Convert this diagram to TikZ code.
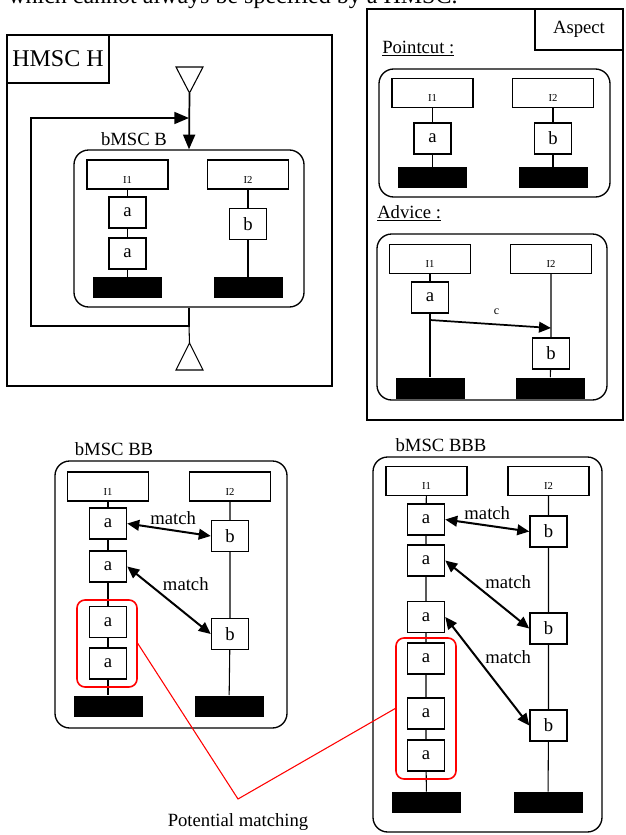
\documentclass[tikz,border=0pt]{standalone}
\usepackage{fontspec}
\setmainfont{Liberation Serif}
\usetikzlibrary{arrows.meta}

\begin{document}
\begin{tikzpicture}[x=0.75pt, y=-0.75pt,
    head/.style={draw, line width=0.9pt, minimum width=60.75pt, minimum height=21.75pt, inner sep=2pt, text height=14pt, text depth=1pt, font=\fontsize{8}{8}\selectfont},
    ev/.style={draw, fill=white, line width=1.1pt, minimum width=27.75pt, minimum height=23.25pt, inner sep=0pt, font=\fontsize{14}{14}\selectfont},
    endbar/.style={fill=black, minimum width=51.75pt, minimum height=15.75pt, inner sep=0pt},
    msc/.style={draw, rounded corners=11pt, line width=1pt, inner sep=0pt},
    potential/.style={draw=red, rounded corners=6pt, line width=1.2pt, inner sep=0pt, minimum width=45pt},
    life/.style={line width=0.8pt},
    big/.style={font=\fontsize{14}{16}\selectfont},
    matcharrow/.style={{Triangle[length=9pt,width=8pt]}-{Triangle[length=9pt,width=8pt]}, line width=1.5pt}]
    \clip (0,0) rectangle (625,835);

    \node[font=\fontsize{18}{20}\selectfont, anchor=base west, inner sep=0pt] (intro) at (8,3) {which cannot always be specified by a HMSC.};

    % HMSC H
    \draw[line width=0.8pt] (7,35) rectangle (332,386);
    \node[draw, line width=0.8pt, minimum width=76.5pt, minimum height=36pt, inner sep=0pt, font=\fontsize{18}{20}\selectfont] (H) at (58,59) {HMSC H};
    \coordinate (Htop) at (189.5,93);
    \coordinate (Hbot) at (189.5,343);
    \coordinate (Hjoin) at (189,326);
    \coordinate (Hin) at (189,118);
    \draw[line width=0.8pt, fill=white] (Htop) -- ++(-13.5,-26) -- ++(27,0) -- cycle;
    \draw[line width=0.8pt, fill=white] (Hbot) -- ++(-13.5,27) -- ++(27,0) -- cycle;

    \node[msc, minimum width=172.5pt, minimum height=117.75pt] (B) at (189,228.5) {};
    \node[big] (Blabel) at (134,139) {bMSC B};
    \node[head] (B1) at (127.5,174.5) {I1};
    \node[head] (B2) at (248,174.5) {I2};
    \node[ev] (Ba1) at (127.5,212.5) {a};
    \node[ev] (Ba2) at (127.5,253.5) {a};
    \node[ev] (Bb1) at (248,224) {b};
    \node[endbar] (Bend1) at (127.5,287.5) {};
    \node[endbar] (Bend2) at (248,287.5) {};
    \draw[life] (B1) -- (Ba1) -- (Ba2) -- (Bend1);
    \draw[life] (B2) -- (Bb1) -- (Bend2);

    \draw[line width=1.3pt, -{Triangle[length=11pt,width=9pt]}] (Htop) -- (B.north);
    \draw[line width=1.3pt, -{Triangle[length=11pt,width=9pt]}] (B.south) -- (Hjoin) -- (31,326) -- (31,118) -- (Hin);
    \draw[line width=0.8pt] (Hjoin) -- (Hbot);

    % Aspect
    \draw[line width=0.8pt] (367,9) rectangle (623,420);
    \node[draw, line width=0.8pt, minimum width=66pt, minimum height=30.75pt, big] (asp) at (579,29.5) {Aspect};
    \node[big, anchor=base west, inner sep=0pt] (pc) at (382,53) {\underline{Pointcut :}};
    \node[big, anchor=base west, inner sep=0pt] (adv) at (377,218) {\underline{Advice :}};

    \node[msc, minimum width=173.25pt, minimum height=96pt] (P) at (494.5,133) {};
    \node[head] (P1) at (432.5,93) {I1};
    \node[head] (P2) at (553,93) {I2};
    \node[ev] (Pa) at (432.5,138.5) {a};
    \node[ev] (Pb) at (553,138.5) {b};
    \node[endbar] (Pend1) at (432.5,177.5) {};
    \node[endbar] (Pend2) at (553,177.5) {};
    \draw[life] (P1) -- (Pa) -- (Pend1);
    \draw[life] (P2) -- (Pb) -- (Pend2);

    \node[msc, minimum width=172.5pt, minimum height=124.5pt] (A) at (492,317) {};
    \node[head] (A1) at (430,259) {I1};
    \node[head] (A2) at (551,259) {I2};
    \node[ev] (Aa) at (430,297.5) {a};
    \node[ev] (Ab) at (551,353.5) {b};
    \node[endbar] (Aend1) at (430,388) {};
    \node[endbar] (Aend2) at (550,388) {};
    \draw[life] (A1) -- (Aa) -- (Aend1);
    \draw[life] (A2) -- (Ab) -- (Aend2);
    \coordinate (Acfrom) at (430,320);
    \coordinate (Acto) at (551,328);
    \draw[line width=1.3pt, -{Triangle[length=9pt,width=8pt]}] (Acfrom) -- node[above=3pt, pos=0.55, font=\fontsize{9}{9}\selectfont] (c) {c} (Acto);

    % bMSC BB
    \node[msc, minimum width=174pt, minimum height=200.25pt] (BB) at (171,594.5) {};
    \node[big] (BBlabel) at (114,449) {bMSC BB};
    \node[head] (BB1) at (108,486.5) {I1};
    \node[head] (BB2) at (230,486.5) {I2};
    \node[ev] (BBa1) at (108,523.5) {a};
    \node[ev] (BBa2) at (108,566.5) {a};
    \node[ev] (BBa3) at (108,622) {a};
    \node[ev] (BBa4) at (108,663.5) {a};
    \node[ev] (BBb1) at (230,536) {b};
    \node[ev] (BBb2) at (230,634) {b};
    \node[endbar] (BBend1) at (108,706) {};
    \node[endbar] (BBend2) at (229,706) {};
    \draw[life] (BB1) -- (BBa1) -- (BBa2) -- (BBa3) -- (BBa4) -- (BBend1);
    \draw[life] (BB2) -- (BBb1) -- (BBb2) -- (BBend2);
    \node[potential, minimum height=65.25pt] (BBred) at (107,643.5) {};
    \draw[matcharrow] (BBa1.east) -- node[above, pos=0.55, big] (BBm1) {match} (BBb1.west);
    \draw[matcharrow] (BBa2.east) -- node[anchor=south west, pos=0.4, inner sep=1pt, big] (BBm2) {match} (BBb2.west);

    % bMSC BBB
    \node[msc, minimum width=171.75pt, minimum height=281.25pt] (BBB) at (487.5,644.5) {};
    \node[big] (BBBlabel) at (441,445) {bMSC BBB};
    \node[head] (C1) at (426.5,481) {I1};
    \node[head] (C2) at (548.5,481) {I2};
    \node[ev] (Ca1) at (426,519.5) {a};
    \node[ev] (Ca2) at (426,560.5) {a};
    \node[ev] (Ca3) at (426,617) {a};
    \node[ev] (Ca4) at (426,658.5) {a};
    \node[ev] (Ca5) at (426,713.5) {a};
    \node[ev] (Ca6) at (426,755.5) {a};
    \node[ev] (Cb1) at (548.5,531.5) {b};
    \node[ev] (Cb2) at (548.5,628.5) {b};
    \node[ev] (Cb3) at (548.5,725.5) {b};
    \node[endbar] (Cend1) at (426.5,802.5) {};
    \node[endbar] (Cend2) at (548,802.5) {};
    \draw[life] (C1) -- (Ca1) -- (Ca2) -- (Ca3) -- (Ca4) -- (Ca5) -- (Ca6) -- (Cend1);
    \draw[life] (C2) -- (Cb1) -- (Cb2) -- (Cb3) -- (Cend2);
    \node[potential, minimum height=105.75pt] (BBBred) at (426,708.5) {};
    \draw[matcharrow] (Ca1.east) -- node[above, pos=0.5, big] (Cm1) {match} (Cb1.west);
    \draw[matcharrow] (Ca2.east) -- node[anchor=south west, pos=0.45, inner sep=1pt, big] (Cm2) {match} (Cb2.west);
    \draw[matcharrow] (Ca3.east) -- node[anchor=south west, pos=0.45, inner sep=1pt, big] (Cm3) {match} (Cb3.west);

    % potential matching
    \node[big] (pm) at (238,822) {Potential matching};
    \coordinate (pmtip) at (238,799);
    \draw[red, line width=0.8pt] (BBred.east) -- (pmtip) -- (BBBred.west);

\end{tikzpicture}
\end{document}
